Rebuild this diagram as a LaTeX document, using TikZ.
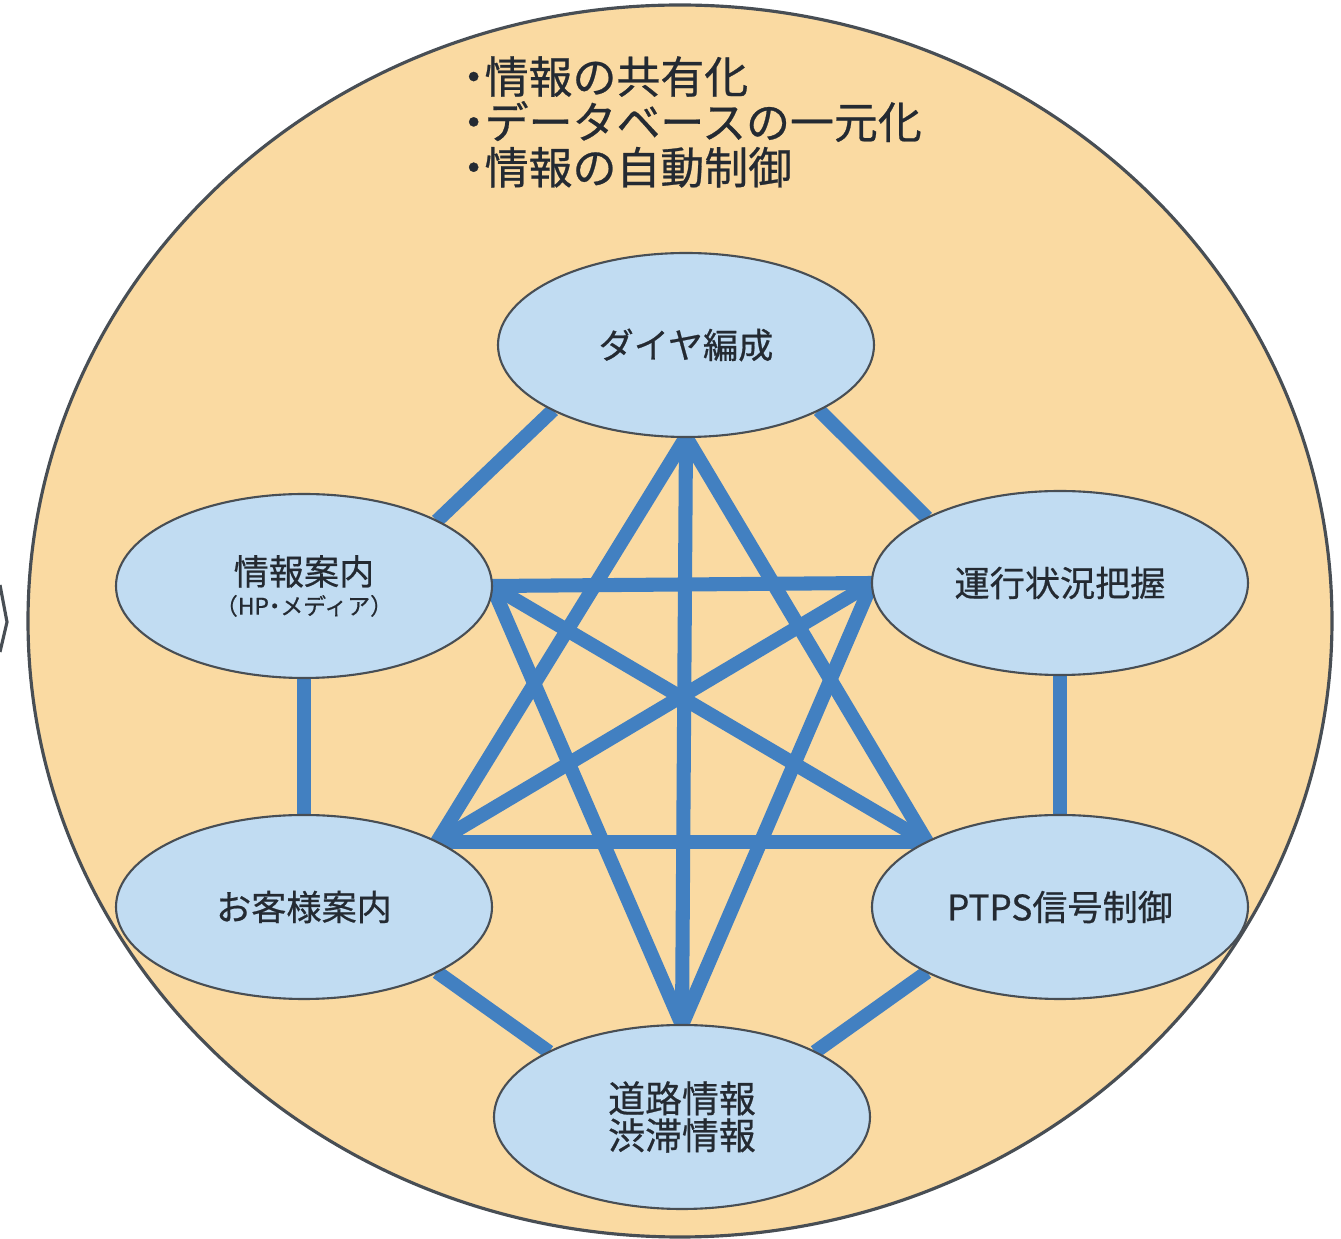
\documentclass[tikz,border=0pt]{standalone}
\usepackage{fontspec}
\setmainfont{Noto Sans CJK JP}[FakeBold=0.6]
\newfontfamily\halffont[RawFeature=+halt, FakeBold=0.6]{Noto Sans CJK JP}
\usetikzlibrary{shapes.geometric}
\pgfdeclarelayer{back}
\pgfdeclarelayer{links}
\pgfsetlayers{back,links,main}

\definecolor{peach}{RGB}{250,218,162}
\definecolor{cellblue}{RGB}{193,220,242}
\definecolor{linkblue}{RGB}{66,128,193}
\definecolor{rimgray}{RGB}{72,78,84}
\definecolor{inkgray}{RGB}{36,42,50}

\tikzset{
  cell/.style={ellipse, draw=rimgray, line width=0.6pt, fill=cellblue,
    minimum width=3.76cm, minimum height=1.84cm, inner sep=0pt, outer sep=0pt,
    text=inkgray, align=center, font=\fontsize{10}{10.5}\selectfont},
  link/.style={draw=linkblue, line width=4pt},
  rim/.style={draw=rimgray, line width=0.9pt}
}

\begin{document}
\begin{tikzpicture}
  \useasboundingbox (0,0) rectangle (13.41,-12.39);

  % Dibuja el circulo de fondo
  \begin{pgfonlayer}{back}
    \draw[rim, fill=peach] (6.80,-6.21) ellipse [x radius=6.52, y radius=6.16];
    \draw[rim] (0,-5.85) -- (0.07,-6.22) -- (0,-6.52);
  \end{pgfonlayer}

  % Objetivos
  \node[anchor=west, align=left, inner sep=0pt, text=inkgray,
        font=\halffont\fontsize{12.5}{12.9}\selectfont] (goals) at (4.62,-1.22)
    {・情報の共有化\\・データベースの一元化\\・情報の自動制御};

  % Las seis funciones
  \node[cell] (dia)   at (6.86,-3.45)  {ダイヤ編成};
  \node[cell] (unko)  at (10.60,-5.83) {運行状況把握};
  \node[cell] (joho)  at (3.04,-5.86)
    {情報案内\\[-2pt]{\halffont\fontsize{6.5}{7}\selectfont （HP・メディア）}};
  \node[cell] (kyaku) at (3.04,-9.07)  {お客様案内};
  \node[cell] (ptps)  at (10.60,-9.07) {PTPS信号制御};
  \node[cell, font=\fontsize{10.5}{10.5}\selectfont] (doro) at (6.82,-11.17)
    {道路情報\\渋滞情報};

  \begin{pgfonlayer}{links}
    % Lados del hexagono
    \draw[link] (dia.south west) -- (joho.north east);
    \draw[link] (dia.south east) -- (unko.north west);
    \draw[link] (joho.south) -- (kyaku.north);
    \draw[link] (unko.south) -- (ptps.north);
    \draw[link] (kyaku.south east) -- (doro.north west);
    \draw[link] (ptps.south west) -- (doro.north east);

    % Estrella interior
    \draw[link] (dia.south) -- (doro.north);
    \draw[link] (dia.south) -- (kyaku.north east);
    \draw[link] (dia.south) -- (ptps.north west);
    \draw[link] (joho.east) -- (unko.west);
    \draw[link] (joho.east) -- (ptps.north west);
    \draw[link] (joho.east) -- (doro.north);
    \draw[link] (unko.west) -- (kyaku.north east);
    \draw[link] (unko.west) -- (doro.north);
    \draw[link] (kyaku.north east) -- (ptps.north west);
  \end{pgfonlayer}
\end{tikzpicture}
\end{document}
